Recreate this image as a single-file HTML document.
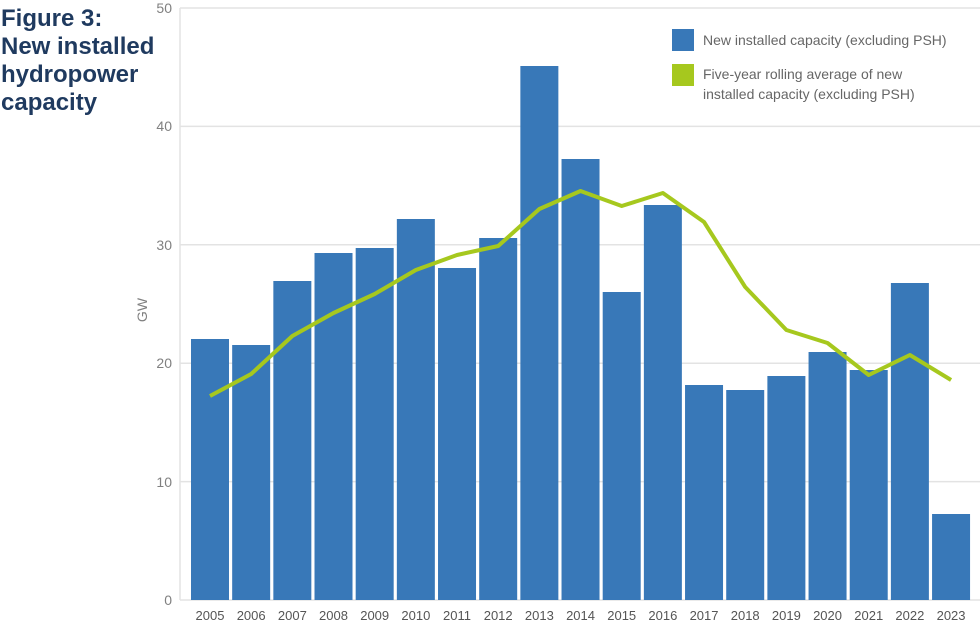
<!DOCTYPE html>
<html><head><meta charset="utf-8"><style>
body{margin:0;background:#fff;width:980px;height:621px;overflow:hidden;font-family:"Liberation Sans",sans-serif}
</style></head><body>
<svg width="980" height="621" xmlns="http://www.w3.org/2000/svg" font-family="Liberation Sans, sans-serif">
<g font-weight="bold" fill="#1f3a5f" font-size="24">
<text x="1" y="26">Figure 3:</text><text x="1" y="54">New installed</text><text x="1" y="82">hydropower</text><text x="1" y="110">capacity</text>
</g>
<g stroke="#e3e3e3" stroke-width="1.5">
<line x1="180" y1="8" x2="980" y2="8"/><line x1="180" y1="126.4" x2="980" y2="126.4"/><line x1="180" y1="244.8" x2="980" y2="244.8"/><line x1="180" y1="363.2" x2="980" y2="363.2"/><line x1="180" y1="481.6" x2="980" y2="481.6"/><line x1="180" y1="600" x2="980" y2="600"/><line x1="180" y1="8" x2="180" y2="600"/>
</g>
<g fill="#808080" font-size="14" text-anchor="end">
<text x="172" y="13">50</text><text x="172" y="131">40</text><text x="172" y="250">30</text><text x="172" y="368">20</text><text x="172" y="487">10</text><text x="172" y="605">0</text>
</g>
<text x="147" y="310" fill="#808080" font-size="14" transform="rotate(-90 147 310)" text-anchor="middle">GW</text>
<g fill="#3878b8" id="bars"></g>
<g fill="#555" font-size="13" text-anchor="middle" id="labs"></g>
<polyline id="ln" fill="none" stroke="#a6c81e" stroke-width="4" stroke-linejoin="round"/>
<rect x="672" y="29" width="22" height="22" fill="#3878b8"/>
<rect x="672" y="64" width="22" height="22" fill="#a6c81e"/>
<g fill="#666" font-size="14">
<text x="703" y="45">New installed capacity (excluding PSH)</text>
<text x="703" y="79">Five-year rolling average of new</text>
<text x="703" y="99">installed capacity (excluding PSH)</text>
</g>
</svg>
<script>
var v=[339,345,281,253,248,219,268,238,66,159,292,205,385,390,376,352,370,283,514];
var l=[396,374,336,313,294,270,255,246,209,191,206,193,222,287,330,343,375,355,380];
var b=document.getElementById('bars'),t=document.getElementById('labs'),ns='http://www.w3.org/2000/svg',pts=[];
for(var i=0;i<19;i++){var c=210+i*41.17;
var r=document.createElementNS(ns,'rect');r.setAttribute('x',c-19);r.setAttribute('width',38);r.setAttribute('y',v[i]);r.setAttribute('height',600-v[i]);b.appendChild(r);
var x=document.createElementNS(ns,'text');x.setAttribute('x',c);x.setAttribute('y',620);x.textContent=2005+i;t.appendChild(x);
pts.push(c+','+l[i]);}
document.getElementById('ln').setAttribute('points',pts.join(' '));
</script>
</body></html>
